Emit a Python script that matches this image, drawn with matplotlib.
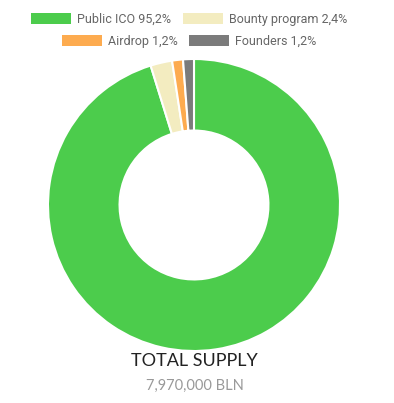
import matplotlib
matplotlib.use("Agg")
from matplotlib import pyplot as plt
from matplotlib.patches import Patch

labels = ["Public ICO 95,2%", "Bounty program 2,4%", "Airdrop 1,2%", "Founders 1,2%"]
shares = [95.2, 2.4, 1.2, 1.2]
colors = ["#4ccc4c", "#f3ecc0", "#fdab4f", "#7b7b7b"]
total_label = "TOTAL SUPPLY"
total_value = "7,970,000 BLN"

plt.rcParams['font.family'] = ['Roboto', 'DejaVu Sans']

fig = plt.figure(figsize=(3.94, 4.03), dpi=100)
ax = fig.add_axes([48 / 394, 1 - 351 / 403, 292 / 394, 292 / 403])
wedges, _ = ax.pie(shares, colors=colors, startangle=90, counterclock=False,
                   radius=1, wedgeprops=dict(width=0.49, edgecolor="white", linewidth=1.5))
ax.set_xlim(-1, 1)
ax.set_ylim(-1, 1)
ax.set_aspect("equal")
ax.axis("off")

# legend swatches without the white wedge edge
handles = [Patch(facecolor=w.get_facecolor(), edgecolor="none") for w in wedges]

leg_kw = dict(ncol=2, frameon=False, fontsize=9, handlelength=3.2, handleheight=0.95,
              handletextpad=0.5, columnspacing=0.9, labelcolor="#666666", borderpad=0)
fig.legend(handles[:2], labels[:2], loc="center", bbox_to_anchor=(189 / 394, 1 - 19 / 403), **leg_kw)
fig.legend(handles[2:], labels[2:], loc="center", bbox_to_anchor=(189 / 394, 1 - 41 / 403), **leg_kw)

fig.text(194 / 394, 1 - 361 / 403, total_label, ha="center", va="center",
         fontsize=13, color="#222222", family=["Lato", "DejaVu Sans"])
fig.text(195 / 394, 1 - 386 / 403, total_value, ha="center", va="center",
         fontsize=10.5, color="#999999", family=["Lato", "DejaVu Sans"])

fig.savefig("out.png", dpi=100)
